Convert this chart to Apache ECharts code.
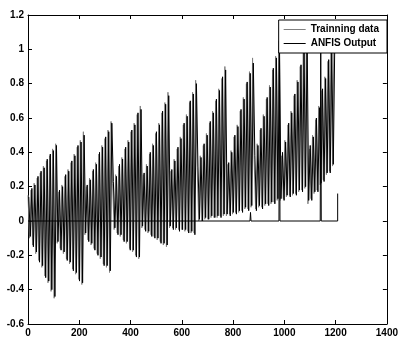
<!DOCTYPE html>
<html><head><meta charset="utf-8">
<script src="https://cdn.jsdelivr.net/npm/echarts@6/dist/echarts.min.js"></script>
<style>html,body{margin:0;padding:0;background:#fff}#c{width:401px;height:338px}</style>
</head><body><div id="c"></div>
<script>
// Sample values (one row per saw-tooth cycle)
const trainingValues = [
  0.15, -0.10, 0.18, -0.14, 0.22, -0.19, 0.25, -0.23, 0.28, -0.27, 0.32, -0.32, 0.35, -0.36, 0.38, -0.41, 0.42, -0.45, 0.45,
  -0.13, 0.17, -0.16, 0.21, -0.19, 0.26, -0.22, 0.30, -0.25, 0.34, -0.28, 0.39, -0.31, 0.43, -0.34, 0.47, -0.37, 0.52,
  -0.08, 0.20, -0.11, 0.25, -0.14, 0.29, -0.16, 0.34, -0.19, 0.39, -0.22, 0.44, -0.25, 0.48, -0.27, 0.53, -0.30, 0.58,
  0.22, -0.05, 0.27, -0.07, 0.32, -0.09, 0.37, -0.11, 0.42, -0.13, 0.47, -0.16, 0.52, -0.18, 0.57, -0.20, 0.62, -0.22, 0.67,
  -0.04, 0.27, -0.05, 0.33, -0.07, 0.39, -0.08, 0.45, -0.09, 0.51, -0.11, 0.57, -0.12, 0.63, -0.14, 0.69, -0.15, 0.75,
  -0.04, 0.29, -0.04, 0.36, -0.05, 0.42, -0.05, 0.49, -0.05, 0.56, -0.06, 0.62, -0.06, 0.69, -0.07, 0.75, -0.07, 0.82,
  0.31, 0.00, 0.38, 0.00, 0.44, 0.01, 0.51, 0.01, 0.57, 0.02, 0.64, 0.02, 0.70, 0.02, 0.77, 0.03, 0.83, 0.03, 0.90,
  0.03, 0.33, 0.04, 0.41, 0.04, 0.49, 0.05, 0.56, 0.05, 0.64, 0.06, 0.72, 0.07, 0.80, 0.07, 0.87, 0.08, 0.95,
  0.36, 0.07, 0.45, 0.08, 0.53, 0.08, 0.62, 0.09, 0.71, 0.10, 0.79, 0.10, 0.88, 0.11, 0.96, 0.12, 1.05,
  0.12, 0.38, 0.13, 0.47, 0.14, 0.56, 0.15, 0.64, 0.15, 0.73, 0.16, 0.82, 0.17, 0.90, 0.18, 0.99, 0.19, 1.08,
  0.10, 0.42, 0.13, 0.50, 0.16, 0.59, 0.18, 0.67, 0.21, 0.76, 0.24, 0.84, 0.27, 0.93, 0.29, 1.01, 0.32, 1.10
];
const anfisValues = [
  0.14, -0.09, 0.19, -0.15, 0.21, -0.18, 0.26, -0.24, 0.29, -0.26, 0.31, -0.33, 0.36, -0.35, 0.39, -0.40, 0.41, -0.44, 0.44,
  -0.12, 0.18, -0.17, 0.20, -0.18, 0.27, -0.23, 0.29, -0.24, 0.35, -0.29, 0.38, -0.30, 0.44, -0.35, 0.46, -0.36, 0.50,
  -0.07, 0.21, -0.12, 0.24, -0.13, 0.30, -0.17, 0.33, -0.20, 0.40, -0.21, 0.43, -0.26, 0.49, -0.26, 0.52, -0.29, 0.57,
  0.23, -0.04, 0.26, -0.08, 0.33, -0.08, 0.36, -0.12, 0.43, -0.12, 0.46, -0.17, 0.53, -0.17, 0.56, -0.21, 0.63, -0.21, 0.65,
  -0.03, 0.28, -0.06, 0.32, -0.06, 0.40, -0.09, 0.44, -0.10, 0.52, -0.10, 0.56, -0.13, 0.64, -0.13, 0.68, -0.14, 0.73,
  -0.03, 0.30, -0.05, 0.35, -0.04, 0.43, -0.06, 0.48, -0.05, 0.57, -0.05, 0.61, -0.07, 0.70, -0.06, 0.74, -0.08, 0.80,
  0.32, 0.01, 0.37, 0.00, 0.45, 0.02, 0.50, 0.01, 0.58, 0.03, 0.63, 0.02, 0.71, 0.03, 0.76, 0.02, 0.84, 0.04, 0.88,
  0.04, 0.34, 0.03, 0.40, 0.05, 0.50, 0.04, 0.55, 0.06, 0.65, 0.05, 0.71, 0.08, 0.81, 0.06, 0.86, 0.09, 0.92,
  0.38, 0.06, 0.44, 0.09, 0.54, 0.07, 0.61, 0.10, 0.72, 0.09, 0.78, 0.11, 0.89, 0.10, 0.95, 0.13, 1.03,
  0.13, 0.40, 0.12, 0.46, 0.15, 0.57, 0.14, 0.63, 0.16, 0.74, 0.15, 0.81, 0.18, 0.91, 0.17, 0.98, 0.20, 1.05,
  0.12, 0.44, 0.12, 0.49, 0.17, 0.60, 0.17, 0.66, 0.22, 0.77, 0.23, 0.83, 0.28, 0.94, 0.28, 1.00, 0.33, 1.07
];
const sampleSpacing = 6;   // x units between samples
const anfisShift = 3;      // ANFIS samples sit between training samples
const baselineX = [0, 866, 868, 870, 979, 981, 983, 1140, 1142, 1144, 1208, 1208];
const baselineY = [0, 0, 0.05, 0, 0, 1.05, 0, 0, 1.05, 0, 0, 0.16];
const seriesNames = ['Trainning data', 'ANFIS Output'];
const xMin = 0, xMax = 1400, xStep = 200;
const yMin = -0.6, yMax = 1.2, yStep = 0.2;

const font = '"Liberation Sans", Arial, sans-serif';
const trainData = trainingValues.map((v, i) => [i * sampleSpacing, v]);
const anfisData = anfisValues.map((v, i) => [i * sampleSpacing + anfisShift, v]);
const baseData = baselineX.map((x, i) => [x, baselineY[i]]);

const chart = echarts.init(document.getElementById('c'), null, {renderer: 'canvas'});
const line = {show: true, onZero: false, lineStyle: {color: '#000', width: 1}};
const tick = {show: true, inside: true, length: 4, lineStyle: {color: '#000', width: 1}};
const lab = {color: '#000', fontSize: 10, fontWeight: 'bold', fontFamily: font, formatter: v => String(v)};
chart.setOption({
  animation: false,
  backgroundColor: '#fff',
  grid: {left: 28, right: 9, top: 15, bottom: 13, containLabel: false},
  legend: {
    orient: 'vertical', right: 14, top: 20,
    data: seriesNames,
    backgroundColor: '#fff', borderColor: '#000', borderWidth: 1, borderRadius: 0,
    padding: [3, 8, 3, 5], itemGap: 1, itemWidth: 22, itemHeight: 1, icon: 'rect',
    textStyle: {color: '#000', fontSize: 10, fontWeight: 'bold', fontFamily: font, lineHeight: 13}
  },
  xAxis: [
    {type: 'value', min: xMin, max: xMax, interval: xStep, position: 'bottom',
     axisLine: line, axisTick: tick, splitLine: {show: false}, axisLabel: Object.assign({margin: 4}, lab)},
    {type: 'value', min: xMin, max: xMax, interval: xStep, position: 'top',
     axisLine: line, axisTick: tick, splitLine: {show: false}, axisLabel: {show: false}}
  ],
  yAxis: [
    {type: 'value', min: yMin, max: yMax, interval: yStep, position: 'left',
     axisLine: line, axisTick: tick, splitLine: {show: false}, axisLabel: Object.assign({margin: 4}, lab)},
    {type: 'value', min: yMin, max: yMax, interval: yStep, position: 'right',
     axisLine: line, axisTick: tick, splitLine: {show: false}, axisLabel: {show: false}}
  ],
  series: [
    {name: seriesNames[0], type: 'line', data: trainData, showSymbol: false, z: 2,
     color: '#808080', lineStyle: {color: '#808080', width: 1}},
    {name: seriesNames[1], type: 'line', data: anfisData, showSymbol: false, z: 3,
     color: '#000', lineStyle: {color: '#000', width: 1}},
    {name: 'baseline', type: 'line', data: baseData, showSymbol: false, z: 3,
     color: '#000', lineStyle: {color: '#000', width: 1}}
  ]
});
</script></body></html>
